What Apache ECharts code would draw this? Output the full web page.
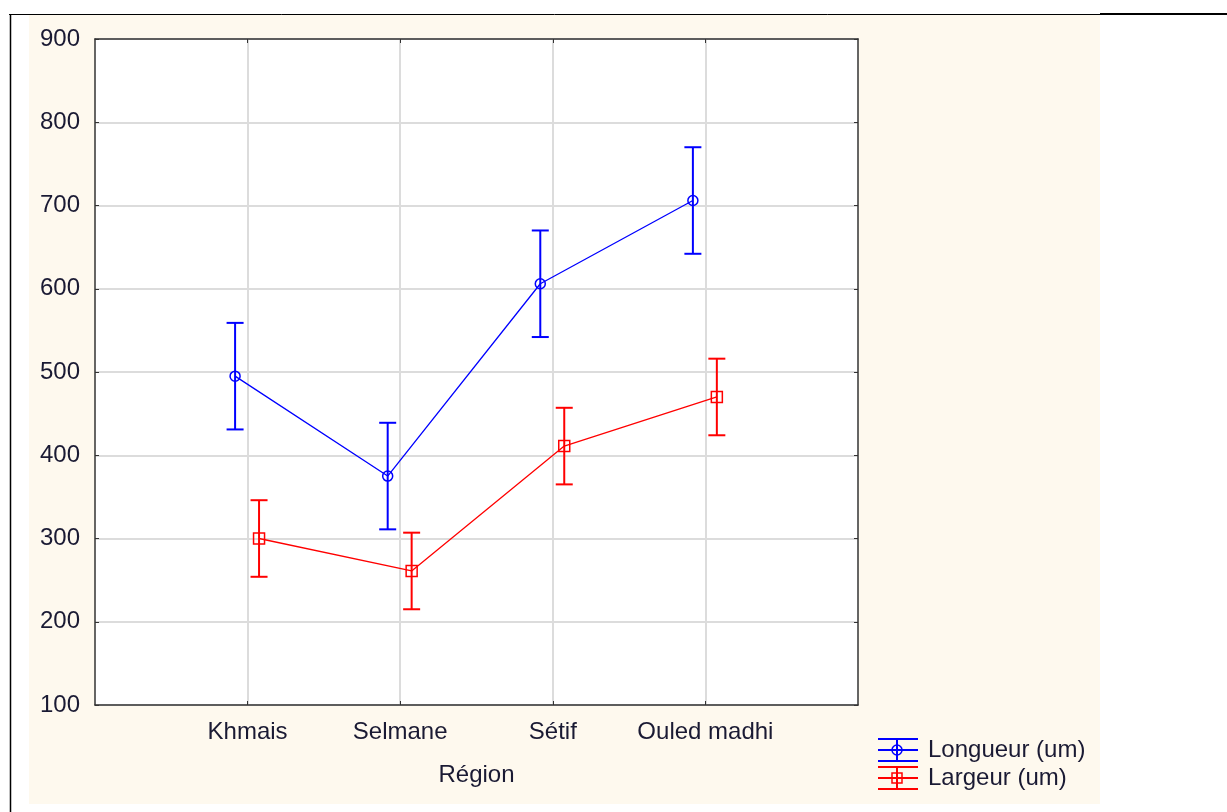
<!DOCTYPE html>
<html>
<head>
<meta charset="utf-8">
<title>Longueur / Largeur par région</title>
<script src="https://cdn.jsdelivr.net/npm/echarts@6/dist/echarts.min.js"></script>
<style>
    html, body { margin: 0; padding: 0; background: #fff; }
    #chart { width: 1227px; height: 812px; }
</style>
</head>
<body>
<div id="chart"></div>
<script>
// regions on the x axis (positions 1..4)
const regions = ['Khmais', 'Selmane', 'Sétif', 'Ouled madhi']
const yTicks = [100, 200, 300, 400, 500, 600, 700, 800, 900]

// Longueur (um): mean and error half-width
const longueurMean = [495, 375, 606, 706]
const longueurErr = [64, 64, 64, 64]
// Largeur (um)
const largeurMean = [300, 261, 411, 470]
const largeurErr = [46, 46, 46, 46]

const BLUE = '#0000ff'
const RED = '#ff0000'
const TXT = '#1a1a33'
const FONT = 'Liberation Sans, Arial, sans-serif'
const catPos = regions.map((r, i) => i + 1)

// small horizontal shift so the two series do not overlap
function pts(means, shift) {
    return means.map((v, i) => [i + 1 + shift, v])
}
function bars(means, errs, shift) {
    return means.map((v, i) => [i + 1 + shift, v - errs[i], v + errs[i]])
}

// error bar drawing
function errorBar(color) {
    return function (params, api) {
        const lo = api.coord([api.value(0), api.value(1)])
        const hi = api.coord([api.value(0), api.value(2)])
        const half = 8.5
        const style = { stroke: color, lineWidth: 2 }
        return {
            type: 'group',
            children: [
                { type: 'line', shape: { x1: lo[0], y1: lo[1], x2: hi[0], y2: hi[1] }, style },
                { type: 'line', shape: { x1: lo[0] - half, y1: lo[1], x2: lo[0] + half, y2: lo[1] }, style },
                { type: 'line', shape: { x1: hi[0] - half, y1: hi[1], x2: hi[0] + half, y2: hi[1] }, style }
            ]
        }
    }
}

// legend symbol : caps + line + marker
function legendItem(y, color, label, marker) {
    const st = { stroke: color, lineWidth: 2 }
    return [
        { type: 'line', shape: { x1: 878, y1: y - 11, x2: 918, y2: y - 11 }, style: st },
        { type: 'line', shape: { x1: 878, y1: y, x2: 918, y2: y }, style: st },
        { type: 'line', shape: { x1: 878, y1: y + 11, x2: 918, y2: y + 11 }, style: st },
        { type: 'line', shape: { x1: 897, y1: y - 11, x2: 897, y2: y + 11 }, style: st },
        marker,
        {
            type: 'text', x: 928, y: y,
            style: { text: label, fill: TXT, font: '24px ' + FONT, verticalAlign: 'middle' }
        }
    ]
}

const frame = { show: true, onZero: false, lineStyle: { color: '#333', width: 1.5 } }
const tick = { show: true, inside: true, length: 4, lineStyle: { color: '#333' } }
const grey = { show: true, lineStyle: { color: '#dcdcdc', width: 2 } }

const chart = echarts.init(document.getElementById('chart'))

const option = {
    backgroundColor: '#ffffff',
    animation: false,
    textStyle: { fontFamily: FONT },
    graphic: [
        { type: 'rect', z: -10, shape: { x: 29, y: 15, width: 1071, height: 789 }, style: { fill: '#fef9ee' } },
        { type: 'line', z: 10, shape: { x1: 9, y1: 14.5, x2: 1100, y2: 14.5 }, style: { stroke: '#000', lineWidth: 1 } },
        { type: 'line', z: 10, shape: { x1: 1100, y1: 14, x2: 1227, y2: 14 }, style: { stroke: '#000', lineWidth: 2 } },
        { type: 'line', z: 10, shape: { x1: 10.5, y1: 14, x2: 10.5, y2: 812 }, style: { stroke: '#000', lineWidth: 1.5 } },
        ...legendItem(750, BLUE, 'Longueur (um)',
            { type: 'circle', shape: { cx: 897, cy: 750, r: 5 }, style: { stroke: BLUE, fill: 'none', lineWidth: 1.5 } }),
        ...legendItem(778, RED, 'Largeur (um)',
            { type: 'rect', shape: { x: 892, y: 773, width: 10, height: 10 }, style: { stroke: RED, fill: 'none', lineWidth: 1.5 } })
    ],
    grid: {
        left: 95,
        top: 39,
        right: 369,
        bottom: 107,
        show: true,
        backgroundColor: '#ffffff',
        borderWidth: 0
    },
    xAxis: [
        {
            type: 'value',
            position: 'bottom',
            min: 0,
            max: regions.length + 1,
            interval: 1,
            name: 'Région',
            nameLocation: 'middle',
            nameGap: 58,
            nameTextStyle: { color: TXT, fontSize: 24 },
            axisLine: frame,
            axisTick: Object.assign({ customValues: catPos }, tick),
            axisLabel: {
                color: TXT,
                fontSize: 24,
                margin: 15,
                customValues: catPos,
                formatter: (v) => regions[v - 1] || ''
            },
            splitLine: grey
        },
        {
            type: 'value',
            position: 'top',
            min: 0,
            max: regions.length + 1,
            interval: 1,
            axisLine: frame,
            axisTick: Object.assign({ customValues: catPos }, tick),
            axisLabel: { show: false },
            splitLine: { show: false }
        }
    ],
    yAxis: [
        {
            type: 'value',
            position: 'left',
            min: yTicks[0],
            max: yTicks[yTicks.length - 1],
            interval: 100,
            axisLine: frame,
            axisTick: tick,
            axisLabel: { color: TXT, fontSize: 24, margin: 15 },
            splitLine: grey
        },
        {
            type: 'value',
            position: 'right',
            min: yTicks[0],
            max: yTicks[yTicks.length - 1],
            interval: 100,
            axisLine: frame,
            axisTick: tick,
            axisLabel: { show: false },
            splitLine: { show: false }
        }
    ],
    series: [
        {
            name: 'Longueur (um)',
            type: 'custom',
            renderItem: errorBar(BLUE),
            encode: { x: 0, y: [1, 2] },
            data: bars(longueurMean, longueurErr, -0.082),
            z: 3
        },
        {
            name: 'Largeur (um)',
            type: 'custom',
            renderItem: errorBar(RED),
            encode: { x: 0, y: [1, 2] },
            data: bars(largeurMean, largeurErr, 0.075),
            z: 3
        },
        {
            name: 'Longueur (um)',
            type: 'line',
            data: pts(longueurMean, -0.082),
            symbol: 'circle',
            symbolSize: 10,
            lineStyle: { color: BLUE, width: 1.3 },
            itemStyle: { color: 'rgba(0,0,0,0)', borderColor: BLUE, borderWidth: 1.5 },
            z: 4
        },
        {
            name: 'Largeur (um)',
            type: 'line',
            data: pts(largeurMean, 0.075),
            symbol: 'rect',
            symbolSize: 11,
            lineStyle: { color: RED, width: 1.3 },
            itemStyle: { color: 'rgba(0,0,0,0)', borderColor: RED, borderWidth: 1.5 },
            z: 4
        }
    ]
}

chart.setOption(option)
</script>
</body>
</html>
